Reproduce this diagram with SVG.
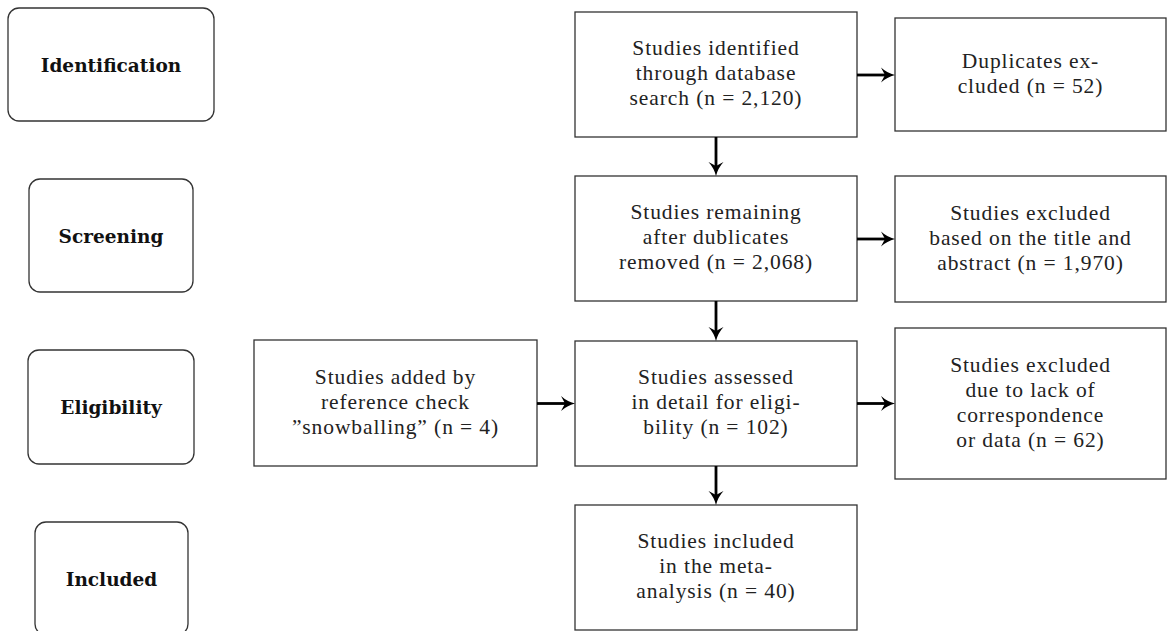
<svg xmlns="http://www.w3.org/2000/svg" width="1167" height="631" viewBox="0 0 1167 631">
<style>
.stage{fill:#fff;stroke:#333;stroke-width:1.3}
.box{fill:#fff;stroke:#333;stroke-width:1.3}
.lbl{font-family:"DejaVu Serif","Liberation Serif",serif;font-weight:bold;font-size:18.5px;fill:#111;text-anchor:middle}
.txt{font-family:"Liberation Serif","DejaVu Serif",serif;font-size:21.5px;letter-spacing:0.9px;fill:#222;text-anchor:middle}
.arr{stroke:#000;stroke-width:2.8;fill:none;marker-end:url(#ah)}
</style>
<defs>
<marker id="ah" markerUnits="userSpaceOnUse" markerWidth="18" markerHeight="18" viewBox="0 0 18 18" refX="9" refY="9" orient="auto">
<path d="M1,1.5 Q7,7 15,9 Q7,11 1,16.5 L5,9 Z" fill="#000"/>
</marker>
</defs>
<rect width="1167" height="631" fill="#fff"/>
<g id="stage-identification"><rect class="stage" x="8" y="8" width="206" height="113" rx="11"/><text class="lbl" x="111" y="71.5">Identification</text></g>
<g id="stage-screening"><rect class="stage" x="29" y="179" width="164" height="113" rx="11"/><text class="lbl" x="111" y="242.5">Screening</text></g>
<g id="stage-eligibility"><rect class="stage" x="28" y="350" width="166" height="114" rx="11"/><text class="lbl" x="111" y="413.5">Eligibility</text></g>
<g id="stage-included"><rect class="stage" x="35" y="522" width="153" height="113" rx="11"/><text class="lbl" x="111.5" y="585.5">Included</text></g>

<g id="identified"><rect class="box" x="575" y="12" width="282" height="125"/>
<text class="txt" x="716" y="55">Studies identified</text><text class="txt" x="716" y="80">through database</text><text class="txt" x="716" y="105">search (n = 2,120)</text></g>
<g id="remaining"><rect class="box" x="575" y="176" width="282" height="125"/>
<text class="txt" x="716" y="219">Studies remaining</text><text class="txt" x="716" y="244">after dublicates</text><text class="txt" x="716" y="269">removed (n = 2,068)</text></g>
<g id="assessed"><rect class="box" x="575" y="341" width="282" height="125"/>
<text class="txt" x="716" y="384">Studies assessed</text><text class="txt" x="716" y="409">in detail for eligi-</text><text class="txt" x="716" y="434">bility (n = 102)</text></g>
<g id="included"><rect class="box" x="575" y="505" width="282" height="125"/>
<text class="txt" x="716" y="548">Studies included</text><text class="txt" x="716" y="573">in the meta-</text><text class="txt" x="716" y="598">analysis (n = 40)</text></g>
<g id="snowballing"><rect class="box" x="254" y="340" width="283" height="126"/>
<text class="txt" x="395.5" y="383.5">Studies added by</text><text class="txt" x="395.5" y="408.5">reference check</text><text class="txt" x="395.5" y="433.5">”snowballing” (n = 4)</text></g>
<g id="duplicates"><rect class="box" x="895" y="18" width="271" height="113"/>
<text class="txt" x="1030.5" y="67.5">Duplicates ex-</text><text class="txt" x="1030.5" y="92.5">cluded (n = 52)</text></g>
<g id="excluded-title"><rect class="box" x="895" y="176" width="271" height="126"/>
<text class="txt" x="1030.5" y="219.5">Studies excluded</text><text class="txt" x="1030.5" y="244.5">based on the title and</text><text class="txt" x="1030.5" y="269.5">abstract (n = 1,970)</text></g>
<g id="excluded-data"><rect class="box" x="895" y="328" width="271" height="151"/>
<text class="txt" x="1030.5" y="371.5">Studies excluded</text><text class="txt" x="1030.5" y="396.5">due to lack of</text><text class="txt" x="1030.5" y="421.5">correspondence</text><text class="txt" x="1030.5" y="446.5">or data (n = 62)</text></g>

<g id="connectors">
<line class="arr" x1="857" y1="75" x2="889" y2="75"/>
<line class="arr" x1="857" y1="239" x2="889" y2="239"/>
<line class="arr" x1="857" y1="403.5" x2="889" y2="403.5"/>
<line class="arr" x1="537" y1="403.5" x2="569" y2="403.5"/>
<line class="arr" x1="716" y1="137" x2="716" y2="170"/>
<line class="arr" x1="716" y1="301" x2="716" y2="335"/>
<line class="arr" x1="716" y1="466" x2="716" y2="499"/>
</g>
</svg>
